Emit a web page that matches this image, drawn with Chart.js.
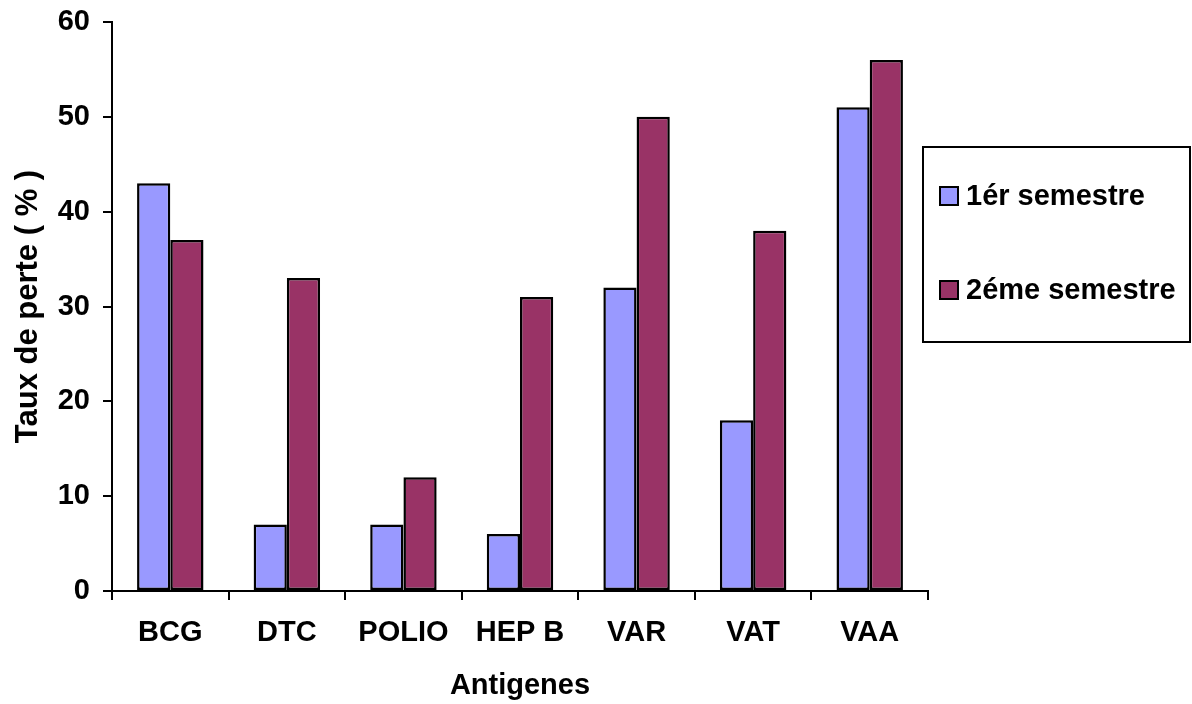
<!DOCTYPE html>
<html>
<head>
<meta charset="utf-8">
<script src="https://cdn.jsdelivr.net/npm/chart.js@4/dist/chart.umd.min.js"></script>
<style>
  html, body { margin: 0; padding: 0; background: #fff; }
  #wrap { width: 1192px; height: 704px; position: relative; }
</style>
</head>
<body>
<div id="wrap"><canvas id="c"></canvas></div>
<script>
const categories = ["BCG", "DTC", "POLIO", "HEP B", "VAR", "VAT", "VAA"];
const semestre1 = [43, 7, 7, 6, 32, 18, 51];
const semestre2 = [37, 33, 12, 31, 50, 38, 56];
const seriesLabels = ["1ér semestre", "2éme semestre"];
const seriesColors = ["#9999FF", "#993366"];
const yTicks = [0, 10, 20, 30, 40, 50, 60];
const xTitle = "Antigenes";
const yTitle = "Taux de perte ( % )";

const FONT = "'Liberation Sans', Arial, sans-serif";

const boxLegend = {
  id: 'boxLegend',
  afterDraw(chart) {
    const ctx = chart.ctx;
    const bx = 923, by = 147, bw = 267, bh = 195;
    ctx.save();
    ctx.fillStyle = '#fff';
    ctx.fillRect(bx, by, bw, bh);
    ctx.lineWidth = 2;
    ctx.strokeStyle = '#000';
    ctx.strokeRect(bx, by, bw, bh);
    ctx.font = "bold 29px " + FONT;
    ctx.textBaseline = 'middle';
    ctx.textAlign = 'left';
    const rowsY = [196, 290];
    chart.data.datasets.forEach((ds, i) => {
      const y = rowsY[i];
      ctx.fillStyle = ds.backgroundColor;
      ctx.fillRect(940, y - 9, 18, 18);
      ctx.lineWidth = 2;
      ctx.strokeStyle = '#000';
      ctx.strokeRect(940, y - 9, 18, 18);
      ctx.fillStyle = '#000';
      ctx.fillText(ds.label, 966, y + 1);
    });
    ctx.restore();
  }
};

new Chart(document.getElementById('c'), {
  type: 'bar',
  data: {
    labels: categories,
    datasets: [
      { label: seriesLabels[0], data: semestre1, backgroundColor: seriesColors[0], borderColor: '#000', borderWidth: 2.5, borderSkipped: false },
      { label: seriesLabels[1], data: semestre2, backgroundColor: seriesColors[1], borderColor: '#000', borderWidth: 2.5, borderSkipped: false }
    ]
  },
  options: {
    responsive: true,
    maintainAspectRatio: false,
    animation: false,
    layout: { padding: { top: 22, right: 264, bottom: 0, left: 0 } },
    datasets: { bar: { categoryPercentage: 0.57, barPercentage: 1.0 } },
    plugins: { legend: { display: false }, tooltip: { enabled: false } },
    scales: {
      x: {
        afterFit(scale) { scale.height = 113; },
        grid: { drawOnChartArea: false, drawTicks: true, tickLength: 9, color: '#000', lineWidth: 2, offset: true },
        border: { display: true, color: '#000', width: 2 },
        ticks: { color: '#000', font: { family: FONT, size: 29, weight: 'bold' }, padding: 16, maxRotation: 0, autoSkip: false },
        title: { display: true, text: xTitle, color: '#000', font: { family: FONT, size: 29, weight: 'bold' }, padding: { top: 0, bottom: 1 } }
      },
      y: {
        min: 0, max: 60,
        afterFit(scale) { scale.width = 112; scale.paddingTop = 0; scale.paddingBottom = 0; },
        afterBuildTicks(scale) { scale.ticks = yTicks.map(v => ({ value: v })); },
        grid: { drawOnChartArea: false, drawTicks: true, tickLength: 9, color: '#000', lineWidth: 2 },
        border: { display: true, color: '#000', width: 2 },
        ticks: { color: '#000', font: { family: FONT, size: 29, weight: 'bold' }, padding: 13 },
        title: { display: true, text: yTitle, color: '#000', font: { family: FONT, size: 31, weight: 'bold' }, padding: { top: 10, bottom: 0 } }
      }
    }
  },
  plugins: [boxLegend]
});
</script>
</body>
</html>
